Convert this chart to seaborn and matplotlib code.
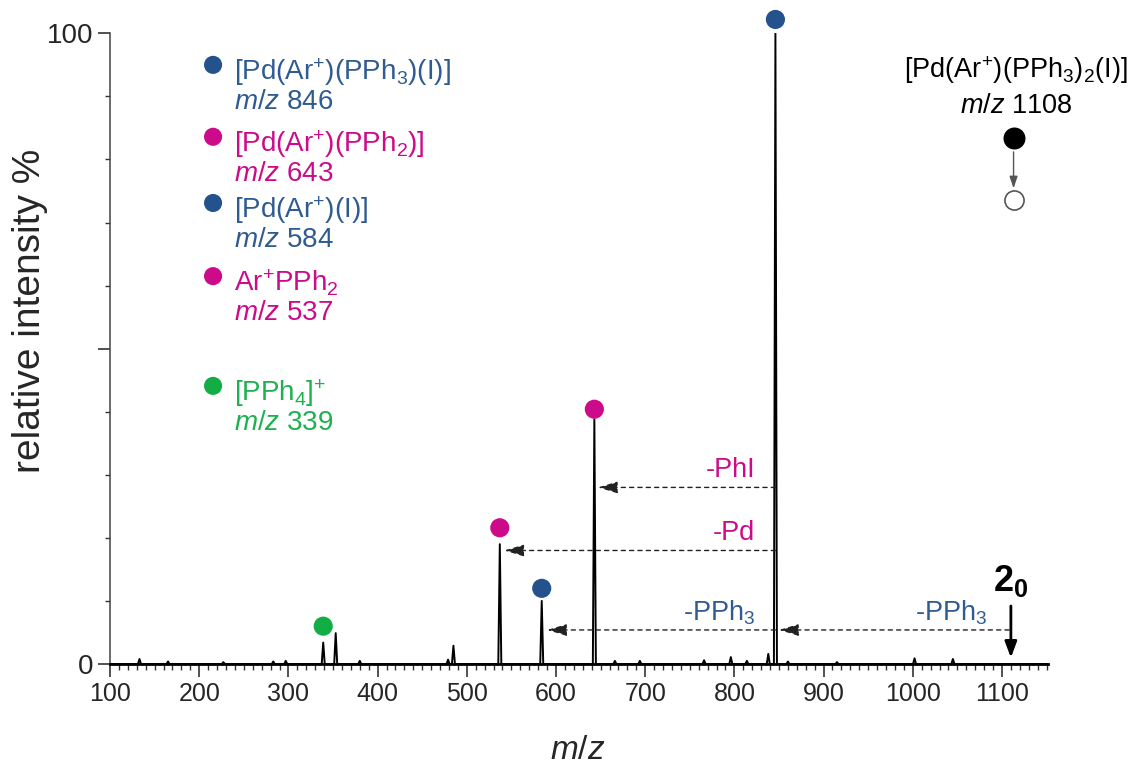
import matplotlib
matplotlib.use("Agg")
import matplotlib.pyplot as plt
import seaborn as sns
import pandas as pd
import numpy as np

# ---------------- data ----------------
peak_mz = [133, 165, 227, 283, 297, 339, 353, 380, 479, 485, 537, 584, 643, 666, 694, 766, 796, 814, 838, 846, 860, 915, 1002, 1045]
peak_int = [0.8, 0.4, 0.3, 0.4, 0.5, 3.4, 4.9, 0.5, 0.7, 2.9, 19.0, 10.0, 38.8, 0.5, 0.5, 0.6, 1.1, 0.5, 1.6, 100.0, 0.4, 0.3, 0.9, 0.8]

ion_labels = ["[Pd(Ar$^{+}$)(PPh$_{3}$)(I)]", "[Pd(Ar$^{+}$)(PPh$_{2}$)]", "[Pd(Ar$^{+}$)(I)]",
              "Ar$^{+}$PPh$_{2}$", "[PPh$_{4}$]$^{+}$"]
ion_mz = [846, 643, 584, 537, 339]
ion_kind = ["blue", "pink", "blue", "pink", "green"]
marker_y = [102.2, 40.4, 12.0, 21.6, 6.0]
legend_y = [95.0, 83.6, 73.1, 61.5, 44.1]

losses = ["-PhI", "-Pd", "-PPh$_{3}$", "-PPh$_{3}$"]
loss_from = [846, 846, 846, 1108]
loss_to = [647, 542, 590, 850]
loss_y = [28.0, 18.0, 5.4, 5.4]
loss_kind = ["pink", "pink", "blue", "blue"]

parent_label = "[Pd(Ar$^{+}$)(PPh$_{3}$)$_{2}$(I)]"
parent_mz = 1108

x_ticks = [100, 200, 300, 400, 500, 600, 700, 800, 900, 1000, 1100]
y_ticks = [0, 50, 100]
y_ticklabels = ["0", "", "100"]

colors = {"blue": "#24528c", "pink": "#cc0a8a", "green": "#12ad45"}
text_colors = {"blue": "#2f5b91", "pink": "#cc0a8a", "green": "#1db14f"}

# ---------------- style ----------------
sns.set_theme(style="ticks")
plt.rcParams["font.family"] = ["Liberation Sans", "DejaVu Sans"]
plt.rcParams["mathtext.fontset"] = "custom"
plt.rcParams["mathtext.rm"] = "Liberation Sans"
plt.rcParams["mathtext.it"] = "Liberation Sans:italic"
plt.rcParams["mathtext.bf"] = "Liberation Sans:bold"

fig = plt.figure(figsize=(11.31, 7.68), dpi=100)
ax = fig.add_axes([0.0973, 0.1354, 0.8293, 0.8212])

# build stick-profile from peak list
w = 1.7
xs, ys = [100.0], [0.0]
for m, h in zip(peak_mz, peak_int):
    xs += [m - w, m, m + w]
    ys += [0.0, h, 0.0]
xs.append(1151.6)
ys.append(0.0)
spec = pd.DataFrame({"mz": xs, "intensity": ys})
sns.lineplot(data=spec, x="mz", y="intensity", sort=False, estimator=None,
             color="black", lw=1.4, ax=ax)

# peak markers
mk = pd.DataFrame({"mz": ion_mz, "y": marker_y, "kind": ion_kind})
sns.scatterplot(data=mk, x="mz", y="y", hue="kind", palette=colors, s=190,
                edgecolor="none", legend=False, ax=ax, clip_on=False, zorder=5)

# legend-like annotations
leg_x = 215.5
lg = pd.DataFrame({"x": [leg_x] * len(legend_y), "y": legend_y, "kind": ion_kind})
sns.scatterplot(data=lg, x="x", y="y", hue="kind", palette=colors, s=170,
                edgecolor="none", legend=False, ax=ax, clip_on=False, zorder=5)
for lab, m, k, yy in zip(ion_labels, ion_mz, ion_kind, legend_y):
    ax.text(leg_x + 24, yy - 2.4, lab, color=text_colors[k], fontsize=20, va="baseline", ha="left")
    ax.text(leg_x + 24, yy - 7.0, f"$m/z$ {m}", color=text_colors[k], fontsize=20, va="baseline", ha="left")

# loss arrows
for lab, x0, x1, yy, k in zip(losses, loss_from, loss_to, loss_y, loss_kind):
    ax.annotate("", xy=(x1, yy), xytext=(x0, yy),
                arrowprops=dict(arrowstyle="-|>,head_length=1.0,head_width=0.3", linestyle=(0, (3, 3)),
                                color="#222222", lw=1.0, shrinkA=0, shrinkB=0))
    ax.text(x0 - 23 if x0 < 1000 else x0 - 24, yy + 2.7, lab, color=text_colors[k], fontsize=19.5,
            ha="right", va="center")

# parent annotation
ax.text(parent_mz + 8, 94.2, parent_label, fontsize=19.5, ha="center", va="center", color="black")
ax.text(parent_mz + 8, 88.4, f"$m/z$ {parent_mz}", fontsize=19.5, ha="center", va="center", color="black")
ax.scatter([parent_mz + 5], [83.4], s=220, color="black", zorder=5, clip_on=False)
ax.annotate("", xy=(parent_mz + 5, 75.4), xytext=(parent_mz + 5, 81.2),
            arrowprops=dict(arrowstyle="-|>,head_length=0.6,head_width=0.2", color="#555555", lw=1.0,
                            shrinkA=0, shrinkB=0))
ax.scatter([parent_mz + 5], [73.6], s=190, facecolor="white", edgecolor="#555555", lw=1.2,
           zorder=5, clip_on=False)

# 2_0 arrow
ax.text(parent_mz + 2, 11.5, r"$\mathbf{2}_{\mathbf{0}}$", fontsize=26, ha="center", va="baseline",
        color="black", fontweight="bold")
ax.annotate("", xy=(parent_mz + 2, 1.0), xytext=(parent_mz + 2, 9.2),
            arrowprops=dict(arrowstyle="-|>,head_length=0.8,head_width=0.3", color="black", lw=2.0,
                            shrinkA=0, shrinkB=0))

# axes
ax.set_xlim(100, 1151.6)
ax.set_ylim(0, 100)
ax.set_xticks(x_ticks)
ax.set_xticklabels([str(t) for t in x_ticks])
ax.set_xticks(np.arange(100, 1151, 10), minor=True)
ax.set_yticks(y_ticks)
ax.set_yticklabels(y_ticklabels)
ax.set_yticks(np.arange(0, 101, 10), minor=True)
ax.tick_params(axis="both", which="major", labelsize=18, length=9, width=1.2, color="#333333", pad=4)
ax.tick_params(axis="y", which="major", labelsize=20, pad=3)
ax.tick_params(axis="both", which="minor", length=4, width=1.0, color="#333333")
ax.tick_params(axis="y", which="minor", length=3.5)
for s in ["top", "right"]:
    ax.spines[s].set_visible(False)
ax.spines["bottom"].set_linewidth(2.0)
ax.spines["bottom"].set_color("black")
ax.spines["left"].set_linewidth(1.1)
ax.spines["left"].set_color("#444444")

ax.set_xlabel("$m/z$", fontsize=24)
ax.set_ylabel("relative intensity %", fontsize=28)
ax.xaxis.set_label_coords(0.499, -0.113)
ax.yaxis.set_label_coords(-0.066, 0.56)

fig.savefig("out.png", dpi=100)
